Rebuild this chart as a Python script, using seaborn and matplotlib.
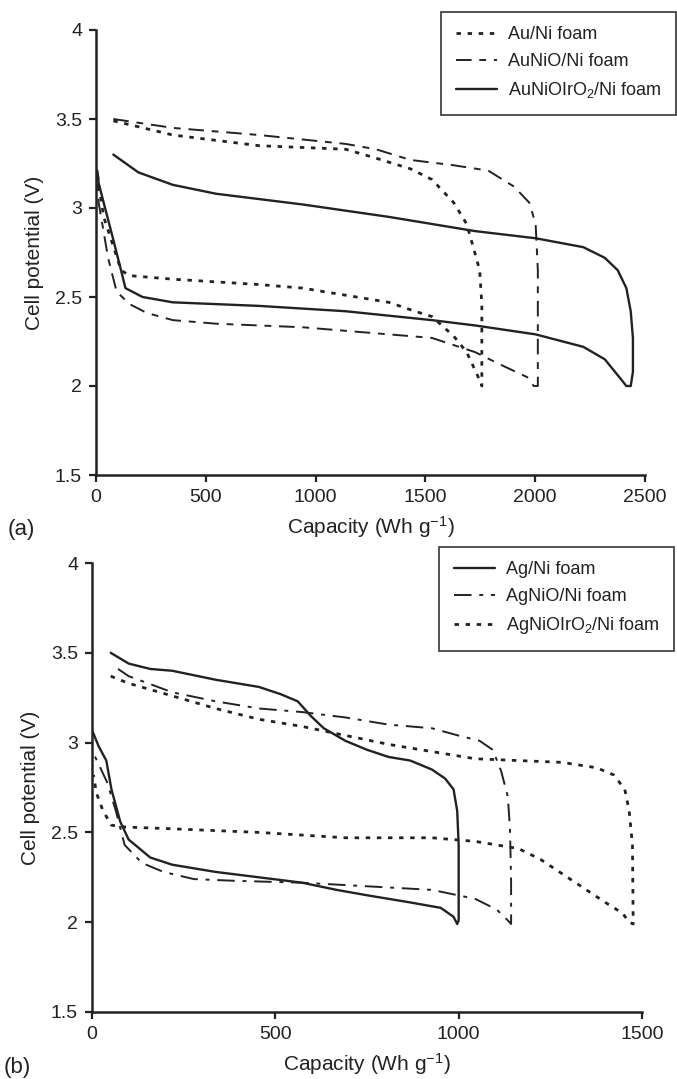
import matplotlib
matplotlib.use("Agg")
import matplotlib.pyplot as plt
import seaborn as sns
from matplotlib.ticker import FuncFormatter

# ---------------- data (panel a) ----------------
a_xticks = [0, 500, 1000, 1500, 2000, 2500]
yticks = [1.5, 2, 2.5, 3, 3.5, 4]

au_ni_cap = [79, 350, 743, 1137, 1275, 1432, 1530, 1629, 1688, 1727, 1747, 1757, 1757,
             1737, 1688, 1629, 1530, 1452, 1334, 1137, 940, 743, 350, 153, 114, 75, 35, 16, 6]
au_ni_v = [3.49, 3.41, 3.35, 3.33, 3.28, 3.22, 3.16, 3.03, 2.91, 2.74, 2.65, 2.46, 2.00,
           2.06, 2.19, 2.28, 2.39, 2.42, 2.47, 2.51, 2.55, 2.57, 2.60, 2.62, 2.65, 2.80, 2.95, 3.10, 3.20]

auni_o_cap = [79, 350, 743, 1137, 1275, 1432, 1629, 1786, 1904, 1973, 2002, 2012, 2012,
              1993, 1963, 1825, 1727, 1530, 1334, 940, 547, 350, 232, 153, 94, 55, 26, 12, 6]
auni_o_v = [3.50, 3.45, 3.41, 3.36, 3.33, 3.27, 3.24, 3.21, 3.12, 3.03, 2.91, 2.65, 2.00,
            2.00, 2.05, 2.13, 2.19, 2.27, 2.29, 2.33, 2.35, 2.37, 2.41, 2.46, 2.53, 2.72, 2.93, 3.03, 3.20]

auni_ir_cap = [79, 193, 350, 547, 940, 1334, 1727, 2002, 2219, 2317, 2376, 2415, 2435, 2445, 2445, 2435,
               2415, 2396, 2317, 2219, 2002, 1727, 1530, 1137, 743, 350, 212, 134, 114, 75, 35, 12, 6]
auni_ir_v = [3.30, 3.20, 3.13, 3.08, 3.02, 2.95, 2.87, 2.83, 2.78, 2.72, 2.65, 2.55, 2.42, 2.27, 2.08, 2.00,
             2.00, 2.03, 2.15, 2.22, 2.29, 2.34, 2.37, 2.42, 2.45, 2.47, 2.50, 2.55, 2.65, 2.84, 3.03, 3.14, 3.21]

a_labels = ["Au/Ni foam", "AuNiO/Ni foam", "AuNiOIrO$_2$/Ni foam"]

# ---------------- data (panel b) ----------------
b_xticks = [0, 500, 1000, 1500]

ag_ni_cap = [51, 100, 159, 219, 337, 455, 514, 561, 596, 632, 691, 750, 809, 868, 927, 963, 986, 996, 1000, 1000,
             996, 986, 951, 868, 750, 667, 573, 455, 337, 219, 159, 100, 77, 53, 39, 18, 2]
ag_ni_v = [3.50, 3.44, 3.41, 3.40, 3.35, 3.31, 3.27, 3.23, 3.15, 3.08, 3.01, 2.96, 2.92, 2.90, 2.85, 2.80, 2.74, 2.62, 2.43, 2.01,
           1.99, 2.03, 2.08, 2.11, 2.15, 2.18, 2.22, 2.25, 2.28, 2.32, 2.36, 2.46, 2.56, 2.74, 2.90, 2.98, 3.06]

agni_o_cap = [71, 100, 219, 337, 455, 573, 691, 809, 927, 998, 1057, 1093, 1116, 1134, 1140, 1143, 1143,
              1134, 1104, 1045, 998, 927, 750, 573, 396, 278, 195, 136, 89, 65, 41, 18, 4]
agni_o_v = [3.41, 3.37, 3.28, 3.23, 3.19, 3.17, 3.14, 3.10, 3.08, 3.04, 3.01, 2.96, 2.84, 2.70, 2.52, 2.23, 1.99,
            2.01, 2.07, 2.13, 2.15, 2.18, 2.20, 2.22, 2.23, 2.24, 2.28, 2.33, 2.43, 2.62, 2.78, 2.88, 2.94]

agni_ir_cap = [51, 100, 219, 337, 455, 573, 691, 809, 927, 1045, 1163, 1282, 1376, 1423, 1453, 1465, 1474, 1476,
               1465, 1447, 1400, 1341, 1282, 1223, 1163, 1045, 927, 691, 455, 219, 89, 53, 30, 12, 4]
agni_ir_v = [3.37, 3.33, 3.26, 3.19, 3.13, 3.09, 3.04, 2.99, 2.95, 2.91, 2.90, 2.89, 2.86, 2.82, 2.74, 2.62, 2.43, 1.99,
             2.00, 2.05, 2.11, 2.19, 2.27, 2.35, 2.41, 2.45, 2.47, 2.47, 2.50, 2.52, 2.53, 2.54, 2.62, 2.72, 2.82]

b_labels = ["Ag/Ni foam", "AgNiO/Ni foam", "AgNiOIrO$_2$/Ni foam"]

# ---------------- style ----------------
sns.set_style("ticks")
plt.rcParams["font.family"] = ["Liberation Sans", "DejaVu Sans"]
plt.rcParams["mathtext.default"] = "regular"

INK = "#222222"
DOT = (0, (1.6, 2.4))
LONGSHORT = (0, (8, 4, 3.5, 4))
DASHDOT = (0, (9, 4, 2, 4))
SOLID = "-"

fig = plt.figure(figsize=(6.77, 10.79), dpi=100)
ax_a = fig.add_axes([96 / 677, 1 - 475 / 1079, 549 / 677, 445 / 1079])
ax_b = fig.add_axes([92 / 677, 1 - 1012 / 1079, 550 / 677, 449 / 1079])


def draw(ax, caps, volts, labels, styles, widths):
    handles = []
    for c, v, lab, ls, lw in zip(caps, volts, labels, styles, widths):
        sns.lineplot(x=c, y=v, sort=False, estimator=None, ax=ax, color=INK,
                     linewidth=lw, label=lab, legend=False)
        line = ax.lines[-1]
        line.set_linestyle(ls)
        line.set_solid_joinstyle("round")
        handles.append(line)
    return handles


def style_axes(ax, xmax, xticks):
    ax.set_xlim(0, xmax)
    ax.set_ylim(1.5, 4)
    ax.set_xticks(xticks)
    ax.set_yticks(yticks)
    ax.yaxis.set_major_formatter(FuncFormatter(lambda v, p: f"{v:g}"))
    for s in ["top", "right"]:
        ax.spines[s].set_visible(False)
    for s in ["left", "bottom"]:
        ax.spines[s].set_linewidth(1.8)
        ax.spines[s].set_color(INK)
    ax.tick_params(direction="out", length=5, width=1.6, color=INK,
                   labelsize=14, labelcolor=INK, pad=5)
    ax.set_xlabel("Capacity (Wh g$^{-1}$)", fontsize=15, color=INK, labelpad=6)
    ax.set_ylabel("Cell potential (V)", fontsize=15, color=INK, labelpad=8)
    ax.set_facecolor("white")


h_a = draw(ax_a, [au_ni_cap, auni_o_cap, auni_ir_cap], [au_ni_v, auni_o_v, auni_ir_v],
           a_labels, [DOT, LONGSHORT, SOLID], [2.0, 1.4, 1.7])
h_b = draw(ax_b, [ag_ni_cap, agni_o_cap, agni_ir_cap], [ag_ni_v, agni_o_v, agni_ir_v],
           b_labels, [SOLID, DASHDOT, DOT], [1.7, 1.4, 2.0])

style_axes(ax_a, 2500, a_xticks)
style_axes(ax_b, 1500, b_xticks)

leg_kw = dict(loc="upper right", fontsize=13, frameon=True, fancybox=False,
              handlelength=2.3, handletextpad=0.6, labelspacing=0.55,
              borderpad=0.8, borderaxespad=0, labelcolor=INK)
la = ax_a.legend(h_a, a_labels, bbox_to_anchor=(676 / 677, 1 - 12 / 1079),
                 bbox_transform=fig.transFigure, **leg_kw)
lb = ax_b.legend(h_b, b_labels, bbox_to_anchor=(674 / 677, 1 - 547 / 1079),
                 bbox_transform=fig.transFigure, **leg_kw)
for lg in (la, lb):
    fr = lg.get_frame()
    fr.set_edgecolor("#444444")
    fr.set_linewidth(1.3)
    fr.set_facecolor("white")
    fr.set_alpha(1)

fig.text(8 / 677, 1 - 530 / 1079, "(a)", fontsize=16, color=INK, va="center", ha="left")
fig.text(4 / 677, 1 - 1067 / 1079, "(b)", fontsize=16, color=INK, va="center", ha="left")

fig.savefig("out.png", dpi=100, facecolor="white")
